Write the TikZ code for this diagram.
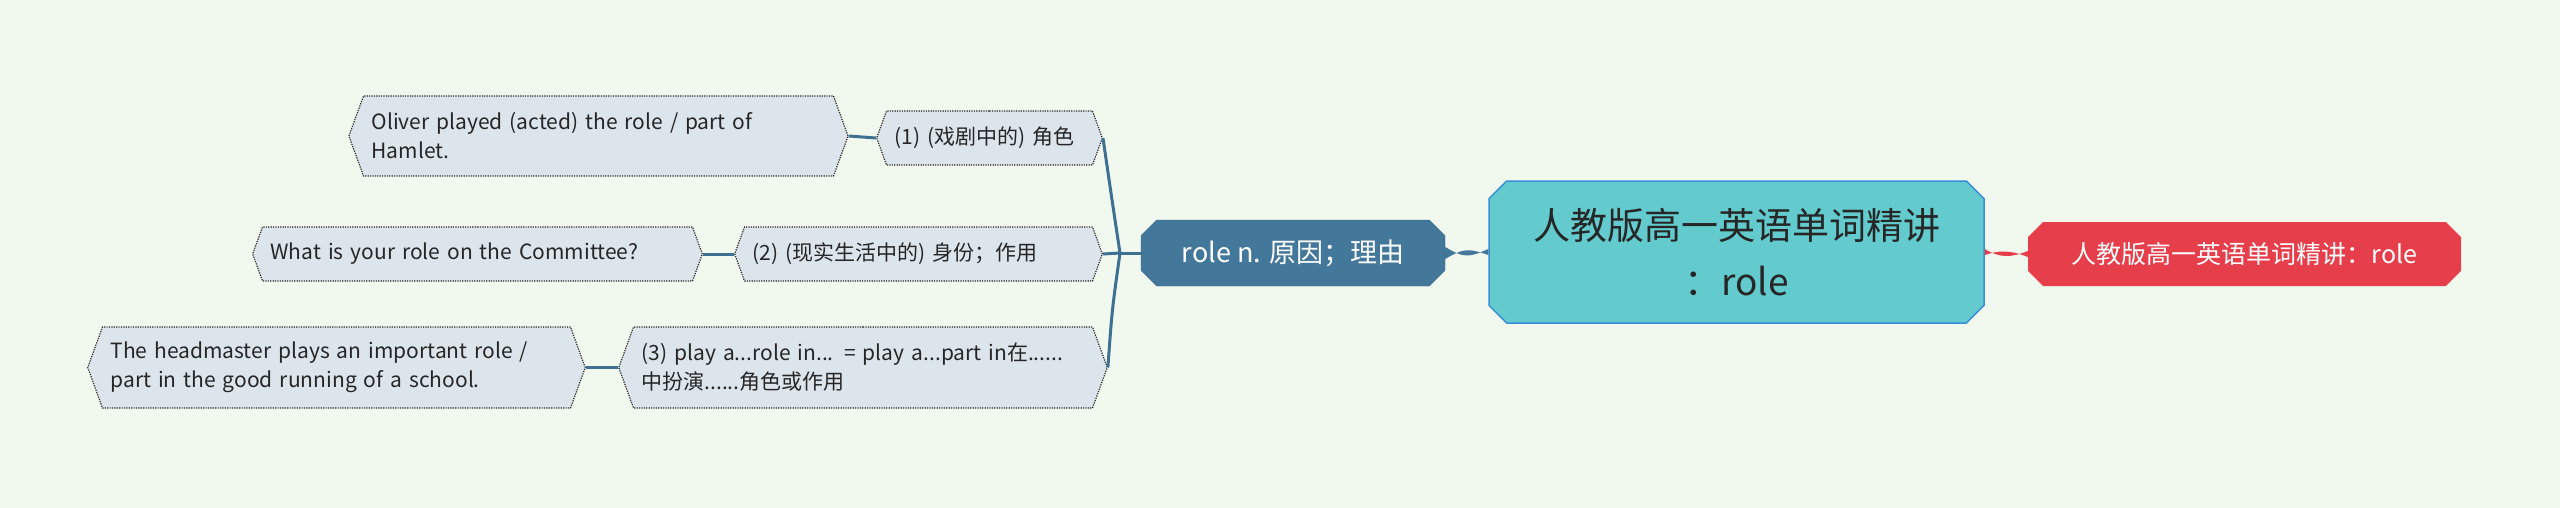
\documentclass[tikz,border=0pt]{standalone}
\usepackage{fontspec}
\setmainfont{Noto Sans CJK SC}
\usetikzlibrary{shapes.misc,shapes.symbols}
\definecolor{bg}{HTML}{F1F9EF}
\definecolor{leaf}{HTML}{DCE5EC}
\definecolor{branch}{HTML}{44789B}
\definecolor{ctr}{HTML}{63CBCE}
\definecolor{ctrb}{HTML}{3A8CD8}
\definecolor{redn}{HTML}{E63E4A}
\definecolor{linec}{HTML}{3E7092}
\tikzset{
 box/.style={chamfered rectangle, chamfered rectangle xsep=12pt, inner sep=0pt, font=\fontsize{21}{29}\selectfont},
 leafbox/.style={signal, signal to=west and east, signal pointer angle=140, inner xsep=8pt, inner ysep=0pt, fill=leaf, draw=black!85, dash pattern=on 1.2pt off 1.2pt, line width=1.2pt, text=black!85, align=left, font=\fontsize{21}{29}\selectfont},
 conn/.style={draw=linec, line width=3pt},
}
\begin{document}
\begin{tikzpicture}[x=1pt,y=-1pt]
\fill[bg] (0,0) rectangle (2560,508);
\useasboundingbox (0,0) rectangle (2560,508);
\node[box, fill=ctr, draw=ctrb, line width=1.5pt, minimum width=495pt, minimum height=142pt, chamfered rectangle xsep=14pt, align=center, font=\fontsize{37}{56}\selectfont, text=black!85] (c) at (1736.5,252) {人教版高一英语单词精讲\\：role};
\node[box, fill=redn, minimum width=433pt, minimum height=64pt, text=white, font=\fontsize{25}{30}\selectfont] (r) at (2244.5,254) {人教版高一英语单词精讲：role};
\node[box, fill=branch, draw=branch!80!black, minimum width=304pt, minimum height=66pt, text=white, font=\fontsize{27}{32}\selectfont] (b) at (1293,253) {role n. 原因；理由};
\node[leafbox, text width=190pt, minimum height=54pt] (s1) at (989.5,138) {(1) (戏剧中的) 角色};
\node[leafbox, text width=332pt, minimum height=54pt] (s2) at (918.5,254) {(2) (现实生活中的) 身份；作用};
\node[leafbox, text width=443pt, minimum height=81pt] (s3) at (863,367.5) {(3) play a...role in... = play a...part in在......\\中扮演......角色或作用};
\node[leafbox, text width=454pt, minimum height=80pt] (l1) at (598.5,136) {Oliver played (acted) the role / part of\\Hamlet.};
\node[leafbox, text width=414pt, minimum height=54pt] (l2) at (477.5,254) {What is your role on the Committee?};
\node[leafbox, text width=452pt, minimum height=81pt] (l3) at (336.5,367.5) {The headmaster plays an important role /\\ part in the good running of a school.};
% tapered links
\fill[branch] ([yshift=-3pt]c.west) .. controls (1470,249) and (1465,247) .. ([yshift=-6pt]b.east) -- ([yshift=6pt]b.east) .. controls (1465,259) and (1470,257) .. ([yshift=3pt]c.west) -- cycle;
\fill[redn] ([yshift=-3pt]c.east) .. controls (2000,250) and (2010,250) .. ([yshift=-3pt]r.west) -- ([yshift=3pt]r.west) .. controls (2010,258) and (2000,258) .. ([yshift=3pt]c.east) -- cycle;
\coordinate (hub) at (1120,253);
\draw[conn] (b.west) -- (hub);
\draw[conn] (hub) .. controls (1112,200) .. (s1.east);
\draw[conn] (hub) -- (s2.east);
\draw[conn] (hub) .. controls (1112,310) .. (s3.east);
\draw[conn] (s1.west) -- (l1.east);
\draw[conn] (s2.west) -- (l2.east);
\draw[conn] (s3.west) -- (l3.east);
\end{tikzpicture}
\end{document}
